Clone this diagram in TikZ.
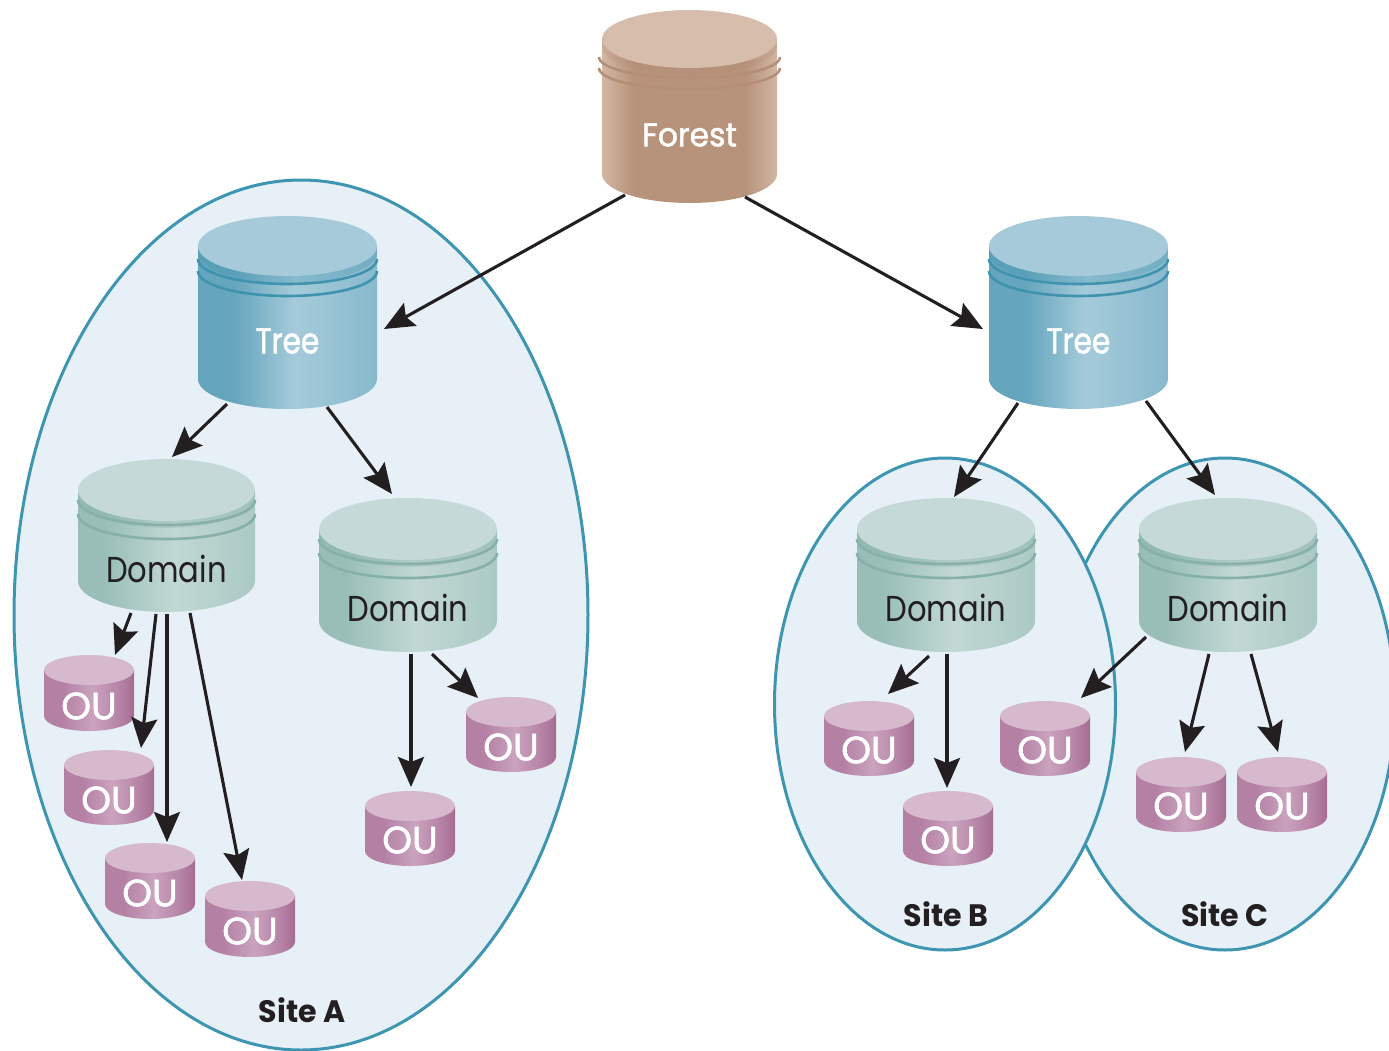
\documentclass[tikz,border=0pt]{standalone}
\usepackage{fontspec}
\setmainfont{Poppins}
\usetikzlibrary{arrows.meta,shapes.geometric}
\definecolor{fTop}{HTML}{D6BDAC}\definecolor{fEdge}{HTML}{D2B6A3}\definecolor{fMid}{HTML}{B8937B}\definecolor{fBand}{HTML}{B48E76}
\definecolor{tTop}{HTML}{A6CAD9}\definecolor{tL}{HTML}{65A5BD}\definecolor{tM}{HTML}{A5CBDA}\definecolor{tR}{HTML}{88B9CD}\definecolor{tBand}{HTML}{3F93AE}
\definecolor{dTop}{HTML}{C5DAD8}\definecolor{dL}{HTML}{98BEB7}\definecolor{dM}{HTML}{C2D8D4}\definecolor{dR}{HTML}{ABC9C4}\definecolor{dBand}{HTML}{86B0A9}
\definecolor{oTop}{HTML}{D7B9CE}\definecolor{oL}{HTML}{B480A4}\definecolor{oM}{HTML}{CAA3BE}\definecolor{oR}{HTML}{A66C92}\definecolor{oBand}{HTML}{A66C92}
\definecolor{siteFill}{HTML}{E6F0F6}\definecolor{siteLine}{HTML}{3E95B1}\definecolor{ink}{HTML}{231F20}
\pgfdeclarehorizontalshading{fBody}{100bp}{color(0bp)=(fEdge);color(25bp)=(fEdge);color(34bp)=(fMid);color(66bp)=(fMid);color(75bp)=(fEdge);color(100bp)=(fEdge)}
\pgfdeclarehorizontalshading{tBody}{100bp}{color(0bp)=(tL);color(25bp)=(tL);color(35bp)=(tL);color(52bp)=(tM);color(75bp)=(tR);color(100bp)=(tR)}
\pgfdeclarehorizontalshading{dBody}{100bp}{color(0bp)=(dL);color(25bp)=(dL);color(32bp)=(dL);color(52bp)=(dM);color(75bp)=(dR);color(100bp)=(dR)}
\pgfdeclarehorizontalshading{oBody}{100bp}{color(0bp)=(oL);color(25bp)=(oL);color(35bp)=(oL);color(52bp)=(oM);color(68bp)=(oL);color(75bp)=(oR);color(100bp)=(oR)}
\tikzset{
  site/.style={ellipse,draw=siteLine,fill=siteFill,line width=1.5pt,inner sep=0pt},
  anchorbox/.style={rectangle,inner sep=0pt,outer sep=0pt},
  flow/.style={draw=ink,line width=1.55pt,-{Stealth[length=15pt,width=13pt,inset=2.5pt]}},
  lab/.style={inner sep=0pt},
  sitelab/.style={inner sep=0pt,text=ink,font=\fontsize{15.5pt}{17pt}\selectfont\bfseries\addfontfeature{FakeStretch=0.97}},
}
\newcommand{\cyl}[9]{%
  \pgfmathsetmacro{\xl}{#2-#4/2}\pgfmathsetmacro{\xr}{#2+#4/2}
  \pgfmathsetmacro{\yt}{#3+#6}\pgfmathsetmacro{\yb}{#3+#5-#6}
  \pgfmathsetmacro{\yc}{#3+#5/2}
  \path[shading=#7Body] (\xl,\yt) -- (\xl,\yb) arc[start angle=180,end angle=0,x radius=#4/2,y radius=#6] -- (\xr,\yt) -- cycle;
  \ifnum#8=1
    \pgfmathsetmacro{\yA}{#3+\eA}\pgfmathsetmacro{\yB}{#3+\eB}
    \draw[#7Band,line width=1.3pt] (\xl-\lip,\yA) arc[start angle=180,end angle=0,x radius=#4/2+\lip,y radius=\bry];
    \draw[#7Band,line width=1.3pt] (\xl-\lip,\yB) arc[start angle=180,end angle=0,x radius=#4/2+\lip,y radius=\bry];
    \fill[#7Band,opacity=.3] (#2,\yt+7) ellipse[x radius=#4/2,y radius=#6];
  \fi
  \fill[#7Top] (#2,\yt) ellipse[x radius=#4/2,y radius=#6];
  \node[anchorbox,minimum width=#4*0.5pt,minimum height=#5*0.5pt] (#1) at (#2,\yc) {};
  \node[lab,text=#9] (#1-text) at (#2,\laby) {\lfont\lbl};
}
\newcommand{\link}[6]{\draw[flow] ([shift={(#2,#3)}]#1.center) -- ([shift={(#5,#6)}]#4.center);}
\begin{document}
\begin{tikzpicture}[x=0.5pt,y=-0.5pt]
\useasboundingbox (0,0) rectangle (1389,1051);
\clip (0,0) rectangle (1389,1051);
\node[site,minimum width=287pt,minimum height=435pt] (siteA) at (301,615) {};
\node[site,minimum width=170pt,minimum height=246pt] (siteC) at (1225,704) {};
\node[site,minimum width=170.5pt,minimum height=246pt] (siteB) at (945,704) {};
\node[sitelab] (siteAl) at (302,1010) {Site A};
\node[sitelab] (siteBl) at (946,914) {Site B};
\node[sitelab] (siteCl) at (1225,914) {Site C};
% Forest
\def\eA{47}\def\eB{58}\def\bry{21}\def\lip{3}
\def\lbl{Forest}\def\laby{135}
\def\lfont{\fontsize{16.5pt}{18pt}\selectfont\addfontfeature{FakeBold=1.5,FakeStretch=0.95}}
\cyl{forest}{689.5}{10}{175}{193}{29}{f}{1}{white}
% Trees
\def\eA{43}\def\eB{55}\def\bry{25}\def\lip{0}
\def\lbl{Tree}\def\laby{341}
\def\lfont{\fontsize{18pt}{20pt}\selectfont\addfontfeature{FakeBold=1.5,FakeStretch=0.82}}
\cyl{treeA}{287.5}{216}{179}{193}{30}{t}{1}{white}
\cyl{treeB}{1078.5}{216}{179}{193}{30}{t}{1}{white}
% Domains
\def\eA{41}\def\eB{55}\def\bry{25}\def\lip{0}
\def\lbl{Domain}
\def\lfont{\fontsize{18pt}{20pt}\selectfont\addfontfeature{FakeStretch=0.85}}
\def\laby{569}\cyl{domA}{166.5}{459}{177}{153}{31}{d}{1}{ink}
\def\laby{608}\cyl{domB}{408}{498}{178}{154}{31}{d}{1}{ink}
\def\laby{608}\cyl{domC}{946}{498}{178}{154}{31}{d}{1}{ink}
\def\laby{608}\cyl{domD}{1228}{498}{178}{154}{31}{d}{1}{ink}
% OUs
\def\lbl{OU}
\def\lfont{\fontsize{19pt}{21pt}\selectfont\addfontfeature{FakeBold=1.5}}
\def\laby{706}\cyl{ou1}{89}{655}{90}{76}{15}{o}{0}{white}
\def\laby{800}\cyl{ou2}{109}{750}{90}{75}{15}{o}{0}{white}
\def\laby{893}\cyl{ou3}{150}{843}{90}{76}{15}{o}{0}{white}
\def\laby{931}\cyl{ou4}{250}{881}{90}{76}{15}{o}{0}{white}
\def\laby{840}\cyl{ou5}{410}{791}{90}{75}{15}{o}{0}{white}
\def\laby{747}\cyl{ou6}{511}{697}{90}{75}{15}{o}{0}{white}
\def\laby{750}\cyl{ou7}{869}{701}{90}{75}{15}{o}{0}{white}
\def\laby{840}\cyl{ou8}{948}{791}{90}{75}{15}{o}{0}{white}
\def\laby{750}\cyl{ou9}{1045}{701}{90}{75}{15}{o}{0}{white}
\def\laby{806}\cyl{ou10}{1181}{757}{90}{75}{15}{o}{0}{white}
\def\laby{806}\cyl{ou11}{1282}{757}{90}{75}{15}{o}{0}{white}
% Connectors
\link{forest}{-64.5}{88.5}{treeA}{96.5}{16.5}
\link{forest}{55.5}{90.5}{treeB}{-95.5}{16.5}
\link{treeA}{-60.5}{91.5}{domA}{5.5}{-78.5}
\link{treeA}{39.5}{94.5}{domB}{-16}{-81}
\link{treeB}{-60.5}{90.5}{domC}{8}{-78}
\link{treeB}{67.5}{88.5}{domD}{-13}{-80}
\link{domA}{-35.5}{77.5}{ou1}{26}{-38}
\link{domA}{-10.5}{78.5}{ou2}{32}{-39.5}
\link{domA}{0.5}{78.5}{ou3}{17}{-39}
\link{domA}{23.5}{77.5}{ou4}{-8}{-39}
\link{domB}{3}{79}{ou5}{1}{-41.5}
\link{domB}{24}{79}{ou6}{-33}{-36.5}
\link{domC}{-17}{81}{ou7}{19}{-44.5}
\link{domC}{1}{79}{ou8}{-1}{-40.5}
\link{domD}{-82}{62}{ou9}{36}{-40.5}
\link{domD}{-19}{79}{ou10}{4}{-42.5}
\link{domD}{23}{79}{ou11}{-4}{-42.5}
\end{tikzpicture}
\end{document}
